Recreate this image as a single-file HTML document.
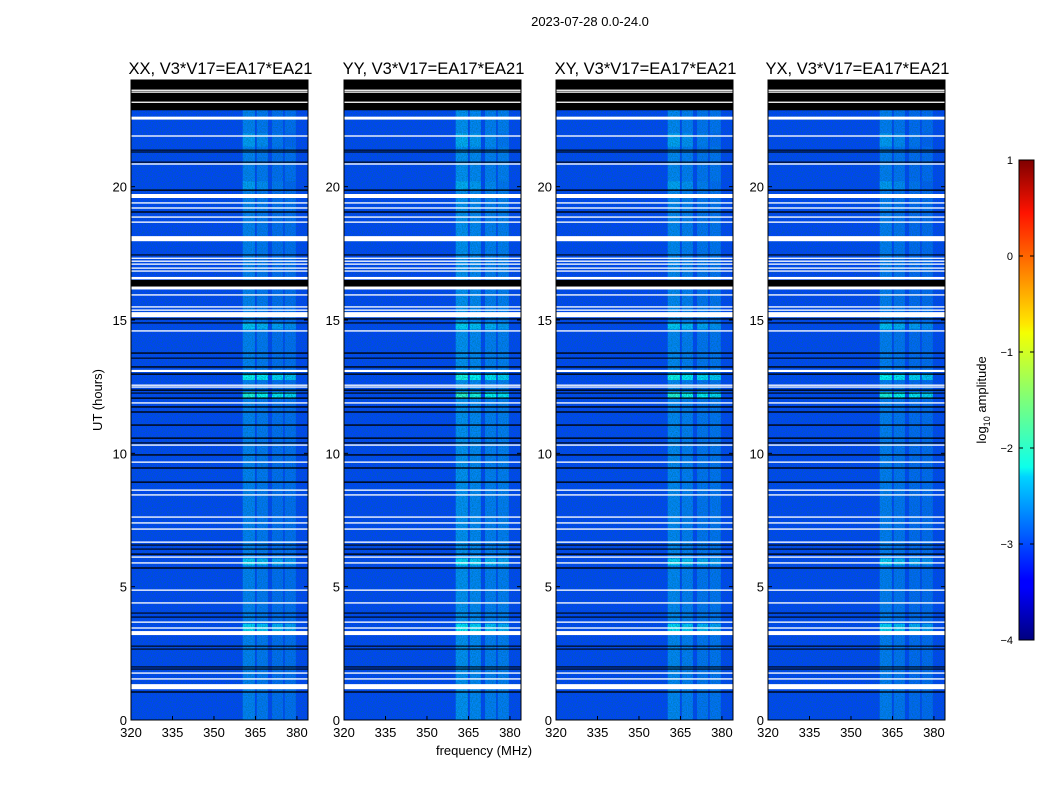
<!DOCTYPE html>
<html><head><meta charset="utf-8"><style>
body{margin:0;background:#fff;}
svg text{font-family:"Liberation Sans",sans-serif;}
</style></head><body>
<svg id="fig" width="1050" height="800" xmlns="http://www.w3.org/2000/svg">
<defs>
<filter id="noise" x="0" y="0" width="100%" height="100%">
<feTurbulence type="fractalNoise" baseFrequency="0.8" numOctaves="2" seed="3"/>
<feColorMatrix type="matrix" values="0 0 0 0 0  0 0 0 0 0.15  0 0 0 0 0.2  1.8 0 0 0 -0.6"/>
</filter>
<linearGradient id="jet" x1="0" y1="1" x2="0" y2="0">
<stop offset="0" stop-color="#00007f"/><stop offset="0.11" stop-color="#0000ff"/>
<stop offset="0.125" stop-color="#0000ff"/><stop offset="0.34" stop-color="#00d4ff"/>
<stop offset="0.36" stop-color="#0dffeb"/><stop offset="0.5" stop-color="#7dff7a"/>
<stop offset="0.64" stop-color="#f4ff02"/><stop offset="0.66" stop-color="#ffe600"/>
<stop offset="0.89" stop-color="#ff1300"/><stop offset="1" stop-color="#7f0000"/>
</linearGradient>
</defs>
<text x="590" y="26" font-size="13" text-anchor="middle">2023-07-28 0.0-24.0</text>
<text transform="translate(102,400) rotate(-90)" font-size="13" text-anchor="middle">UT (hours)</text>
<text x="484" y="755" font-size="13" text-anchor="middle">frequency (MHz)</text>
<g id="panels"></g>
<g>
<rect x="1019" y="160" width="15" height="480" fill="url(#jet)" stroke="#000" stroke-width="1"/>
<g id="cbticks"></g>
<text transform="translate(986,400) rotate(-90)" font-size="13" text-anchor="middle">log<tspan font-size="9" dy="4">10</tspan><tspan dy="-4"> amplitude</tspan></text>
</g>
</svg>
<script>
// ---- data ----
const panelTitles = ["XX, V3*V17=EA17*EA21","YY, V3*V17=EA17*EA21","XY, V3*V17=EA17*EA21","YX, V3*V17=EA17*EA21"];
const xTicks = [320,335,350,365,380];
const yTicks = [0,5,10,15,20];
const cbTicks = [1,0,-1,-2,-3,-4];
const backgroundLevel = -3.05;
// RFI columns: [freqStart, freqEnd, log10 amplitude]
const rfiStart = [360.4, 365.5, 371.0, 375.6];
const rfiEnd   = [364.8, 369.5, 375.0, 379.6];
const rfiLevel = [-2.75, -2.8, -2.85, -2.85];
// per-panel level offsets
const panelOffset = [0, 0.08, 0.03, -0.02];
// bursts: hour ranges with elevated level in RFI columns
const burstStart = [12.05, 12.75, 3.3, 5.8, 14.65, 19.9, 21.5];
const burstEnd   = [12.3, 13.0, 3.6, 6.05, 14.9, 20.2, 22.0];
const burstLevel = [-2.0, -2.1, -2.3, -2.35, -2.4, -2.6, -2.6];
// flagged (white) rows: hour centre and thickness in hours
const whiteHours = [23.62,23.55,23.17,22.57,21.9,20.85,19.65,19.39,19.2,18.86,18.67,18.05,17.32,17.21,17.1,16.95,16.84,16.57,16.2,15.94,15.49,15.37,15.2,14.59,13.09,12.56,12.49,11.89,10.31,9.67,8.62,8.44,7.61,7.39,7.16,6.67,6.11,5.89,4.87,4.39,3.67,3.45,3.26,1.76,1.54,1.25];
const whiteWidth = [0.04,0.04,0.04,0.11,0.05,0.05,0.15,0.05,0.05,0.05,0.05,0.19,0.04,0.04,0.04,0.04,0.04,0.09,0.11,0.05,0.05,0.05,0.19,0.05,0.08,0.04,0.04,0.05,0.05,0.05,0.05,0.05,0.05,0.05,0.05,0.05,0.05,0.05,0.05,0.05,0.05,0.05,0.15,0.05,0.05,0.19];
// black (dark) rows: hour and thickness
const blackHours = [23.43,21.37,21.3,20.92,19.87,19.05,17.44,16.37,15.04,14.89,13.76,13.57,13.24,12.97,12.37,12.26,12.07,11.74,11.55,11.06,10.57,10.39,9.94,9.45,8.92,6.56,6.41,6.22,5.7,4.01,3.86,2.77,2.66,1.99,1.91,1.05];
const blackWidth = [1.13,0.04,0.04,0.04,0.05,0.05,0.04,0.26,0.05,0.04,0.05,0.04,0.05,0.05,0.05,0.04,0.05,0.05,0.05,0.05,0.05,0.04,0.05,0.05,0.05,0.04,0.04,0.05,0.05,0.04,0.04,0.04,0.04,0.04,0.04,0.05];

// ---- layout ----
const panelLeft = [131,344,556,768], PW=177, PT=80, PH=640;
const fMin=320, fMax=384, hMin=0, hMax=24;
const xs = (f,i)=> panelLeft[i] + (f-fMin)/(fMax-fMin)*PW;
const ys = h => PT + PH - (h-hMin)/(hMax-hMin)*PH;
function jet(v){ let t=(v+4)/5; t=Math.max(0,Math.min(1,t));
  const c=x=>Math.round(255*Math.max(0,Math.min(1,1.5-Math.abs(4*t-x))));
  return `rgb(${c(3)},${c(2)},${c(1)})`; }
const NS="http://www.w3.org/2000/svg";
function mk(tag,attrs,parent){const e=document.createElementNS(NS,tag);for(const k in attrs)e.setAttribute(k,attrs[k]);parent.appendChild(e);return e;}
const panels=document.getElementById('panels');
panelTitles.forEach((title,i)=>{
  const g=mk('g',{},panels);
  
  
  const off=panelOffset[i];
  const bg=mk('rect',{x:panelLeft[i],y:PT,width:PW,height:PH,fill:jet(backgroundLevel)},g);
  
  
  rfiStart.forEach((fs,k)=>{
    const r=mk('rect',{x:xs(fs,i),y:PT,width:xs(rfiEnd[k],i)-xs(fs,i),height:PH,fill:jet(rfiLevel[k]+off)},g);
    
    
    burstStart.forEach((bs,b)=>{
      const br=mk('rect',{x:xs(fs,i),y:ys(burstEnd[b]),width:xs(rfiEnd[k],i)-xs(fs,i),height:ys(bs)-ys(burstEnd[b]),fill:jet(burstLevel[b]+off-0.1*k)},g);
      
      
    });
  });
  mk('rect',{x:panelLeft[i],y:PT,width:PW,height:PH,fill:'#000',filter:'url(#noise)',opacity:0.7},g);
  blackHours.forEach((h,k)=>{
    const r=mk('rect',{x:panelLeft[i],y:ys(h+blackWidth[k]/2),width:PW,height:Math.max(1,ys(h-blackWidth[k]/2)-ys(h+blackWidth[k]/2)),fill:'#000'},g);
    
    
  });
  whiteHours.forEach((h,k)=>{
    const r=mk('rect',{x:panelLeft[i],y:ys(h+whiteWidth[k]/2),width:PW,height:Math.max(1.3,ys(h-whiteWidth[k]/2)-ys(h+whiteWidth[k]/2)),fill:'#fff'},g);
    
    
  });
  mk('rect',{x:panelLeft[i],y:PT,width:PW,height:PH,fill:'none',stroke:'#000','stroke-width':1},g);
  const t=mk('text',{x:panelLeft[i]+PW/2+1,y:PT-6,'font-size':16.5,'text-anchor':'middle'},g);
  t.textContent=title;
  
  
  xTicks.forEach(v=>{
    const x=xs(v,i);
    mk('line',{x1:x,x2:x,y1:PT+PH,y2:PT+PH-4,stroke:'#000'},g);
    mk('line',{x1:x,x2:x,y1:PT,y2:PT+4,stroke:'#000'},g);
    const l=mk('text',{x:x,y:PT+PH+17,'font-size':13,'text-anchor':'middle'},g);
    l.textContent=v;
    
    
  });
  yTicks.forEach(v=>{
    const y=ys(v);
    mk('line',{x1:panelLeft[i],x2:panelLeft[i]+4,y1:y,y2:y,stroke:'#000'},g);
    mk('line',{x1:panelLeft[i]+PW,x2:panelLeft[i]+PW-4,y1:y,y2:y,stroke:'#000'},g);
    const l=mk('text',{x:panelLeft[i]-4,y:y+5,'font-size':13,'text-anchor':'end'},g);
    l.textContent=v;
    
    
  });
});
const cb=document.getElementById('cbticks');
cbTicks.forEach(v=>{
  const y=160+(1-v)/5*480;
  mk('line',{x1:1019,x2:1023,y1:y,y2:y,stroke:'#000'},cb);
  mk('line',{x1:1034,x2:1030,y1:y,y2:y,stroke:'#000'},cb);
  const l=mk('text',{x:1013,y:y+4,'font-size':11,'text-anchor':'end'},cb);
  l.textContent=v<0?'\u2212'+(-v):v;
  
  
});
</script>
</body></html>
